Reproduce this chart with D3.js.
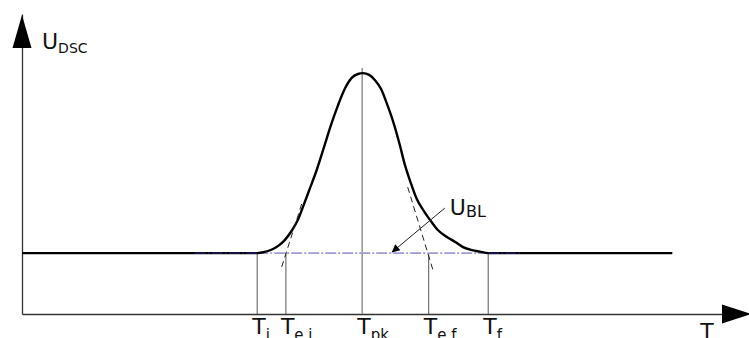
<!DOCTYPE html>
<html>
<head>
<meta charset="utf-8">
<script src="https://cdn.jsdelivr.net/npm/d3@7/dist/d3.min.js"></script>
<style>
  html, body { margin: 0; padding: 0; background: #fff; }
  svg { display: block; }
  text { font-family: "DejaVu Sans", Verdana, sans-serif; fill: #111; }
</style>
</head>
<body>
<script>
// DSC signal versus temperature (arbitrary units)
const curveT = [0, 33.6, 34.7, 35.7, 36.6, 37.6, 38.6, 39.4, 40.3, 41.1, 42.1, 43.1, 44.1, 45.1, 46.1, 47.1, 48.0, 48.7,
                49.6, 50.4, 51.3, 52.1, 53.0, 53.9, 54.7, 55.6, 56.4, 57.3, 58.3, 59.4, 60.7, 61.9, 63.0, 64.3, 65.4, 66.6, 92.9];
const curveU = [20.3, 20.3, 20.7, 21.5, 22.7, 24.8, 28.0, 31.3, 36.7, 41.7, 48.0, 55.3, 62.7, 69.3, 75.0, 78.7, 80.0, 80.3,
                79.7, 78.0, 75.0, 70.3, 64.3, 57.0, 49.7, 43.3, 38.3, 34.7, 31.3, 28.0, 25.7, 24.0, 22.3, 21.3, 20.8, 20.3, 20.3];

// interpolated baseline U_BL
const baselineU = 20.3;
const baselineSpanT = [33.6, 66.6];
const baselineOverlapT = [[24.7, 33.6], [66.6, 71.1]];

// characteristic temperatures
const markerNames = ["i", "e,i", "pk", "e,f", "f"];
const markerT = [33.6, 37.7, 48.6, 58.1, 66.6];
const peakLineTopU = 82;

// inflection tangents (extrapolated onset / endset)
const tangentT = [[37.1, 40.0], [55.1, 58.7]];
const tangentU = [[15.7, 37.0], [42.3, 14.7]];

// pointer from the U_BL label to the baseline
const pointerT = [60.4, 52.9];
const pointerU = [35.3, 20.7];

const W = 749, H = 338;
const svg = d3.select("body").append("svg").attr("width", W).attr("height", H);

const x = d3.scaleLinear().domain([0, 100]).range([22, 722]);
const y = d3.scaleLinear().domain([0, 100]).range([314, 14]);

// axes (no ticks, just the lines)
const xAxis = svg.append("g").attr("transform", `translate(0,${y(0)})`)
  .call(d3.axisBottom(x).tickValues([]).tickSizeOuter(0));
const yAxis = svg.append("g").attr("transform", `translate(${x(0)},0)`)
  .call(d3.axisLeft(y).tickValues([]).tickSizeOuter(0));
[xAxis, yAxis].forEach(g => g.select(".domain").attr("stroke", "#333").attr("stroke-width", 1.3));

// arrow heads
svg.append("polygon")
  .attr("points", [[x(100), y(0) - 9.5], [x(104.2), y(0)], [x(100), y(0) + 9.5]].join(" "))
  .attr("fill", "#000");
svg.append("polygon")
  .attr("points", [[x(0) - 9.5, y(88.7)], [x(0), y(99.7)], [x(0) + 9.5, y(88.7)]].join(" "))
  .attr("fill", "#000");

// vertical markers from the baseline down to the T axis
markerT.forEach((t, i) => {
  const isPeak = markerNames[i] === "pk";
  svg.append("line")
    .attr("x1", x(t)).attr("x2", x(t))
    .attr("y1", y(isPeak ? peakLineTopU : baselineU)).attr("y2", y(0))
    .attr("stroke", isPeak ? "#999" : "#555")
    .attr("stroke-width", isPeak ? 1.6 : 1);
});

// baseline U_BL (dash-dot)
svg.append("line")
  .attr("x1", x(baselineSpanT[0])).attr("x2", x(baselineSpanT[1]))
  .attr("y1", y(baselineU)).attr("y2", y(baselineU))
  .attr("stroke", "#9e9ed6").attr("stroke-width", 1.6)
  .attr("stroke-dasharray", "11,2,2,2");

// DSC curve
const line = d3.line().x(d => x(d[0])).y(d => y(d[1])).curve(d3.curveMonotoneX);
svg.append("path")
  .attr("d", line(curveT.map((t, i) => [t, curveU[i]])))
  .attr("fill", "none").attr("stroke", "#000").attr("stroke-width", 2.4)
  .attr("stroke-linejoin", "round");

// baseline continuing over the flat parts of the curve
baselineOverlapT.forEach(seg => {
  svg.append("line")
    .attr("x1", x(seg[0])).attr("x2", x(seg[1]))
    .attr("y1", y(baselineU)).attr("y2", y(baselineU))
    .attr("stroke", "#1e1e70").attr("stroke-width", 1.4)
    .attr("stroke-dasharray", "11,2,2,2");
});

// tangents
tangentT.forEach((ts, i) => {
  svg.append("line")
    .attr("x1", x(ts[0])).attr("x2", x(ts[1]))
    .attr("y1", y(tangentU[i][0])).attr("y2", y(tangentU[i][1]))
    .attr("stroke", "#222").attr("stroke-width", 1)
    .attr("stroke-dasharray", "6,4");
});

// pointer arrow to the baseline
const defs = svg.append("defs");
defs.append("marker")
  .attr("id", "head").attr("viewBox", "0 0 10 10")
  .attr("refX", 9).attr("refY", 5)
  .attr("markerWidth", 10).attr("markerHeight", 8)
  .attr("markerUnits", "userSpaceOnUse")
  .attr("orient", "auto")
  .append("path").attr("d", "M0,0 L10,5 L0,10 Z").attr("fill", "#000");
svg.append("line")
  .attr("x1", x(pointerT[0])).attr("y1", y(pointerU[0]))
  .attr("x2", x(pointerT[1])).attr("y2", y(pointerU[1]))
  .attr("stroke", "#222").attr("stroke-width", 1)
  .attr("marker-end", "url(#head)");

// labels
function subLabel(px, py, main, sub, mainSize, subSize, shift) {
  const t = svg.append("text").attr("x", px).attr("y", py).style("font-size", mainSize + "px");
  t.append("tspan").text(main);
  t.append("tspan").attr("dy", shift).style("font-size", subSize + "px").text(sub);
}
subLabel(x(0) + 20, y(88.3), "U", "DSC", 22, 14, 4);
subLabel(x(pointerT[0]) + 5, y(33), "U", "BL", 22, 16, 2);
markerT.forEach((t, i) => subLabel(x(t) - 5, y(-6.7), "T", markerNames[i], 22, 15, 6));
subLabel(x(96.9), y(-8.3), "T", "", 22, 15, 0);
</script>
</body>
</html>
